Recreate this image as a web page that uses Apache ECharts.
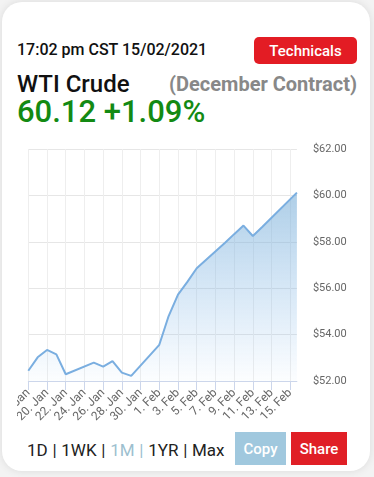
<!DOCTYPE html>
<html>
<head>
<meta charset="utf-8">
<script src="https://cdn.jsdelivr.net/npm/echarts@6/dist/echarts.min.js"></script>
<style>
  html, body { margin:0; padding:0; width:374px; height:477px; background:#f3f3f3; overflow:hidden; font-family: Roboto, "Noto Sans", sans-serif; }
  #card { position:absolute; left:2px; top:2px; width:368px; height:469px; background:#fff; border-radius:20px; box-shadow:0 0 8px rgba(0,0,0,0.10); overflow:hidden; }
  .t { position:absolute; line-height:1; white-space:nowrap; }
  .btn { position:absolute; display:flex; align-items:center; justify-content:center; color:#fff; font-weight:500; }
  #chart { position:absolute; left:17px; top:140px; width:350px; height:290px; }
</style>
</head>
<body>
<div id="card"></div>
<div class="t" style="left:17px; top:41.5px; font-size:16px; font-weight:500; color:#111;">17:02 pm CST 15/02/2021</div>
<div class="btn" style="left:254px; top:37px; width:103px; height:27px; background:#e31c24; border-radius:5px; font-size:15px;">Technicals</div>
<div class="t" style="left:17px; top:71.8px; font-size:24px; font-weight:500; color:#111;">WTI Crude</div>
<div class="t" style="right:17px; top:74.2px; font-size:20px; font-weight:700; color:#888;">(December Contract)</div>
<div class="t" style="left:17px; top:96px; font-size:31px; font-weight:500; color:#138a13;">60.12 +1.09%</div>
<div class="t" style="left:27px; top:442px; font-size:17px; color:#222; word-spacing:0.5px;">1D | 1WK | <span style="color:#9dbfcf;">1M |</span> 1YR | Max</div>
<div class="btn" style="left:235px; top:432px; width:51px; height:33px; background:#a0c8de; font-size:15px;">Copy</div>
<div class="btn" style="left:291px; top:432px; width:56px; height:33px; background:#e01f26; font-size:15px;">Share</div>
<div id="chart"></div>
<script>
// Data
var dates = ['2021-01-18','2021-01-19','2021-01-20','2021-01-21','2021-01-22',
             '2021-01-25','2021-01-26','2021-01-27','2021-01-28','2021-01-29',
             '2021-02-01','2021-02-02','2021-02-03','2021-02-04','2021-02-05',
             '2021-02-08','2021-02-09','2021-02-10','2021-02-11','2021-02-12',
             '2021-02-15T17:02'];
var prices = [52.44, 53.02, 53.34, 53.15, 52.29,
              52.79, 52.62, 52.86, 52.36, 52.22,
              53.56, 54.80, 55.72, 56.27, 56.86,
              57.95, 58.33, 58.70, 58.25, 58.64,
              60.12];
var yTicks = [52, 54, 56, 58, 60, 62];
var months = ['Jan','Feb','Mar','Apr','May','Jun','Jul','Aug','Sep','Oct','Nov','Dec'];

var DAY = 86400000;
function parseUTC(s) { return Date.parse(s.length === 10 ? s + 'T00:00:00Z' : s + ':00Z'); }
var base = parseUTC(dates[0]);
var xs = dates.map(function (d) { return (parseUTC(d) - base) / DAY; });
var xMax = xs[xs.length - 1];
var tickVals = [];
for (var i = 0; i <= Math.floor(xMax); i += 2) tickVals.push(i);

function fmtDay(v) {
  if (Math.abs(v - Math.round(v)) > 1e-6) return '';
  var d = new Date(base + Math.round(v) * DAY);
  return d.getUTCDate() + '. ' + months[d.getUTCMonth()];
}

var chart = echarts.init(document.getElementById('chart'), null, { renderer: 'canvas' });
chart.setOption({
  animation: false,
  grid: { left: 11.3, right: 70.1, top: 9, bottom: 49, containLabel: false, outerBoundsMode: 'none' },
  xAxis: {
    type: 'value', min: 0, max: xMax, interval: 2,
    axisLine: { show: true, lineStyle: { color: '#ccd6eb', width: 1 } },
    axisTick: { show: true, length: 9, lineStyle: { color: '#ccd6eb' }, customValues: tickVals },
    axisLabel: { show: true, rotate: 45, margin: 10, color: '#666', fontSize: 12, fontFamily: 'Roboto',
                 formatter: fmtDay, customValues: tickVals, hideOverlap: false, showMinLabel: true, showMaxLabel: true },
    splitLine: { show: true, lineStyle: { color: '#eeeeee', width: 1 } }
  },
  yAxis: {
    type: 'value', position: 'right', min: yTicks[0], max: yTicks[yTicks.length - 1], interval: 2,
    axisLine: { show: false }, axisTick: { show: false },
    axisLabel: { margin: 0, padding: [0, 0, 0, 16], align: 'left', color: '#666', fontSize: 11, fontFamily: 'Roboto',
                 formatter: function (v) { return '$' + v.toFixed(2); } },
    splitLine: { show: true, lineStyle: { color: '#e6e6e6', width: 1 } }
  },
  series: [{
    type: 'line',
    data: xs.map(function (x, i) { return [x, prices[i]]; }),
    showSymbol: false, symbol: 'none',
    lineStyle: { color: '#7aaee0', width: 2 },
    areaStyle: {
      color: new echarts.graphic.LinearGradient(0, 0, 0, 1, [
        { offset: 0, color: 'rgba(124,176,216,0.88)' },
        { offset: 1, color: 'rgba(124,181,236,0.03)' }
      ])
    }
  }]
});
</script>
</body>
</html>
